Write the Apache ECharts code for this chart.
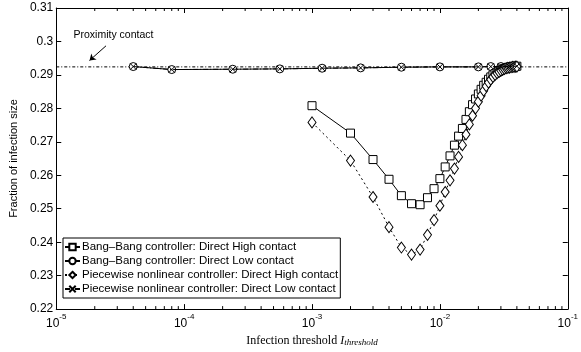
<!DOCTYPE html>
<html>
<head>
<meta charset="utf-8">
<script src="https://cdn.jsdelivr.net/npm/echarts@6/dist/echarts.min.js"></script>
<style>
body { margin: 0; background: #fff; }
#myChart { width: 581px; height: 352px; }
</style>
</head>
<body>
<div id="myChart"></div>
<script>
// thresholds (x) and fraction of infection size (y)
var highX = [0.001, 0.002, 0.003, 0.004, 0.005, 0.006, 0.007, 0.008, 0.009, 0.010,
  0.011, 0.012, 0.013, 0.014, 0.015, 0.016, 0.017, 0.018, 0.019, 0.020,
  0.021, 0.022, 0.023, 0.024, 0.025, 0.026, 0.027, 0.028, 0.029, 0.030,
  0.031, 0.032, 0.033, 0.034, 0.035, 0.036, 0.037, 0.038, 0.039, 0.040];
var bangHigh = [0.2808, 0.2726, 0.2647, 0.2588, 0.2539, 0.2515, 0.2512, 0.2533, 0.2560, 0.2590,
  0.2625, 0.2658, 0.2690, 0.2717, 0.2740, 0.2767, 0.2790, 0.2811, 0.2828, 0.2843,
  0.2857, 0.2869, 0.2878, 0.2887, 0.2894, 0.2900, 0.2904, 0.2908, 0.2911, 0.2914,
  0.2917, 0.2919, 0.2920, 0.2922, 0.2923, 0.2924, 0.2924, 0.2925, 0.2925, 0.2926];
var pieceHigh = [0.2758, 0.2644, 0.2535, 0.2445, 0.2384, 0.2363, 0.2378, 0.2422, 0.2466, 0.2509,
  0.2550, 0.2585, 0.2620, 0.2655, 0.2690, 0.2722, 0.2752, 0.2778, 0.2800, 0.2820,
  0.2838, 0.2853, 0.2866, 0.2877, 0.2886, 0.2894, 0.2900, 0.2905, 0.2909, 0.2913,
  0.2916, 0.2918, 0.2920, 0.2921, 0.2922, 0.2923, 0.2924, 0.2924, 0.2925, 0.2925];
var lowX = [0.00004, 0.00008, 0.00024, 0.00056, 0.0012, 0.0024, 0.005, 0.01, 0.02, 0.025, 0.03, 0.035, 0.04];
var bangLow = [0.2925, 0.2916, 0.2917, 0.2918, 0.2920, 0.2921, 0.2923, 0.2924, 0.2924, 0.2925, 0.2925, 0.2925, 0.2926];
var pieceLow = [0.2925, 0.2916, 0.2917, 0.2918, 0.2920, 0.2921, 0.2923, 0.2924, 0.2924, 0.2925, 0.2925, 0.2925, 0.2926];
var proximity = 0.2924;
var names = ['Bang\u2013Bang controller: Direct High contact',
  'Bang\u2013Bang controller: Direct Low contact',
  'Piecewise nonlinear controller: Direct High contact',
  'Piecewise nonlinear controller: Direct Low contact'];

var minorX = [];
[1e-5, 1e-4, 1e-3, 1e-2].forEach(function (d) {
  for (var k = 2; k <= 9; k++) minorX.push([+(d * k).toPrecision(3), 0.22]);
});

function pairs(xs, ys) {
  return xs.map(function (x, i) { return [x, ys[i]]; });
}

var myChart = echarts.init(document.getElementById('myChart'));
var font = 'Liberation Sans';
var black = '#000';

function xAxisBase(pos) {
  return {
    type: 'log', logBase: 10, min: 1e-5, max: 1e-1, position: pos,
    axisLine: { show: true, onZero: false, lineStyle: { color: black, width: 1 } },
    axisTick: { show: true, inside: true, length: 5, lineStyle: { color: black } },
    splitLine: { show: false },
    minorTick: { show: false }
  };
}
function yAxisBase(pos) {
  return {
    type: 'value', min: 0.22, max: 0.31, interval: 0.01, position: pos,
    axisLine: { show: true, onZero: false, lineStyle: { color: black, width: 1 } },
    axisTick: { show: true, inside: true, length: 5, lineStyle: { color: black } },
    splitLine: { show: false }
  };
}

var xBottom = xAxisBase('bottom');
xBottom.axisLabel = {
  color: black, margin: 4,
  formatter: function (v) {
    var e = Math.round(Math.log10(v));
    return '{b|10}{e|' + e + '}';
  },
  rich: {
    b: { fontFamily: font, fontSize: 12, color: black },
    e: { fontFamily: font, fontSize: 8, color: black, padding: [0, 0, 13, 0] }
  }
};
xBottom.name = '{t|Infection threshold }{i|I}{s|threshold}';
xBottom.nameLocation = 'middle';
xBottom.nameGap = 24;
xBottom.nameTextStyle = {
  rich: {
    t: { fontFamily: 'Liberation Serif', fontSize: 12, color: black },
    i: { fontFamily: 'Liberation Serif', fontSize: 12, fontStyle: 'italic', color: black },
    s: { fontFamily: 'Liberation Serif', fontSize: 9, fontStyle: 'italic', color: black, padding: [4, 0, 0, 0] }
  }
};
var xTop = xAxisBase('top');
xTop.axisLabel = { show: false };

var yLeft = yAxisBase('left');
yLeft.axisLabel = {
  color: black, fontFamily: font, fontSize: 12, margin: 3,
  formatter: function (v) { return String(+v.toFixed(2)); }
};
yLeft.name = 'Fraction of infection size';
yLeft.nameLocation = 'middle';
yLeft.nameGap = 32;
yLeft.nameTextStyle = { fontFamily: font, fontSize: 11, color: black };
var yRight = yAxisBase('right');
yRight.axisLabel = { show: false };

var symStyle = { color: '#fff', borderColor: black, borderWidth: 1 };

myChart.setOption({
  animation: false,
  backgroundColor: '#fff',
  grid: { left: 48, right: 4, top: 8, bottom: 36 },
  xAxis: [xBottom, xTop],
  yAxis: [yLeft, yRight],
  legend: {
    orient: 'vertical', left: 63, top: 238,
    data: names,
    backgroundColor: '#fff', borderColor: black, borderWidth: 1,
    padding: [3, 2, 3, 1], itemGap: 2, itemWidth: 15, itemHeight: 8,
    textStyle: { fontFamily: font, fontSize: 11.5, color: black, padding: [0, 0, 0, -3] }
  },
  series: [
    {
      name: names[0], type: 'line', data: pairs(highX, bangHigh),
      symbol: 'rect', symbolSize: 8, showAllSymbol: true,
      lineStyle: { color: black, width: 1 }, itemStyle: symStyle, z: 5
    },
    {
      name: names[1], type: 'line', data: pairs(lowX, bangLow),
      symbol: 'circle', symbolSize: 8, showAllSymbol: true,
      lineStyle: { color: black, width: 1 }, itemStyle: symStyle, z: 4
    },
    {
      name: names[2], type: 'line', data: pairs(highX, pieceHigh),
      symbol: 'diamond', symbolSize: [8, 11], showAllSymbol: true,
      lineStyle: { color: black, width: 1, type: [2, 3] }, itemStyle: symStyle, z: 5
    },
    {
      name: names[3], type: 'line', data: pairs(lowX, pieceLow),
      symbol: 'path://M0,0L10,10M10,0L0,10', symbolSize: 6, showAllSymbol: true,
      lineStyle: { color: black, width: 1, type: [5, 2, 1, 2] },
      itemStyle: { color: 'none', borderColor: black, borderWidth: 1 }, z: 6
    },
    {
      name: 'proximity', type: 'line', data: [[1e-5, proximity], [1e-1, proximity]],
      symbol: 'none', silent: true,
      lineStyle: { color: black, width: 1, type: [3, 2, 1, 2] }, z: 2,
      markLine: {
        silent: true, symbol: ['none', 'arrow'], symbolSize: 6,
        lineStyle: { color: black, width: 1, type: 'solid' },
        label: { show: false },
        data: [[{ coord: [2.45e-5, 0.2987] }, { coord: [1.82e-5, 0.2943] }]]
      },
      markPoint: {
        silent: true, symbol: 'circle', symbolSize: 0,
        label: { show: true, formatter: 'Proximity contact', color: black, fontFamily: font, fontSize: 10.5 },
        data: [{ coord: [2.8e-5, 0.3018] }]
      }
    },
    {
      name: 'minor', type: 'custom', data: minorX, silent: true, z: 1,
      renderItem: function (params, api) {
        var x = api.value(0);
        var b = api.coord([x, 0.22]);
        var t = api.coord([x, 0.31]);
        var st = { stroke: black, lineWidth: 1 };
        return {
          type: 'group',
          children: [
            { type: 'line', shape: { x1: b[0], y1: b[1], x2: b[0], y2: b[1] - 3 }, style: st },
            { type: 'line', shape: { x1: t[0], y1: t[1], x2: t[0], y2: t[1] + 3 }, style: st }
          ]
        };
      }
    }
  ]
});
</script>
</body>
</html>
